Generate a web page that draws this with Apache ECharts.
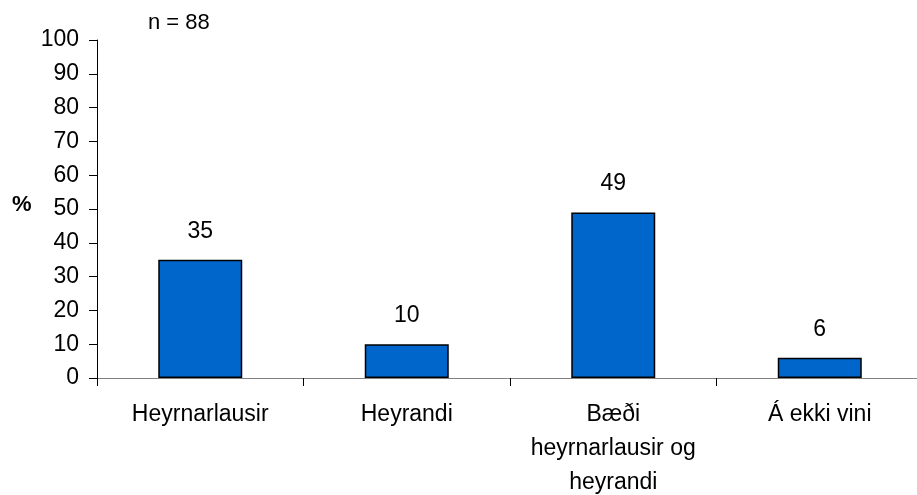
<!DOCTYPE html>
<html>
<head>
<meta charset="utf-8">
<script src="https://cdn.jsdelivr.net/npm/echarts@6/dist/echarts.min.js"></script>
<style>html,body{margin:0;padding:0;background:#fff;}#c{width:917px;height:495px;}</style>
</head>
<body>
<div id="c"></div>
<script>
const categories = ['Heyrnarlausir', 'Heyrandi', 'Bæði\nheyrnarlausir og\nheyrandi', 'Á ekki vini'];
const values = [35, 10, 49, 6];
const yTicks = [0, 10, 20, 30, 40, 50, 60, 70, 80, 90, 100];

const chart = echarts.init(document.getElementById('c'));
const font = 'Liberation Sans, Arial, sans-serif';
chart.setOption({
  animation: false,
  backgroundColor: '#fff',
  textStyle: { fontFamily: font },
  grid: { left: 97, top: 40, width: 826, height: 338, containLabel: false, outerBoundsMode: 'none' },
  graphic: [
    { type: 'text', left: 148, top: 12, style: { text: 'n = 88', font: '22px ' + font, fill: '#000' } },
    { type: 'text', left: 12, top: 194, style: { text: '%', font: 'bold 22px ' + font, fill: '#000' } }
  ],
  xAxis: {
    type: 'category',
    data: categories,
    axisLine: { lineStyle: { color: '#808080', width: 1 } },
    axisTick: { show: true, alignWithLabel: false, length: 8, inside: false, lineStyle: { color: '#000' } },
    axisLabel: { color: '#000', fontSize: 23, lineHeight: 34, margin: 20, fontFamily: font, interval: 0 },
    splitLine: { show: false }
  },
  yAxis: {
    type: 'value',
    min: yTicks[0], max: yTicks[yTicks.length - 1], interval: 10,
    axisLine: { show: true, lineStyle: { color: '#000', width: 1 } },
    axisTick: { show: true, length: 8, lineStyle: { color: '#000' } },
    axisLabel: { color: '#000', fontSize: 23, margin: 18, fontFamily: font },
    splitLine: { show: false }
  },
  series: [{
    type: 'bar',
    data: values,
    barWidth: 84,
    itemStyle: { color: '#0066CC', borderColor: '#000', borderWidth: 1.5 },
    label: { show: true, position: 'top', distance: 17, color: '#000', fontSize: 23, fontFamily: font }
  }]
});
</script>
</body>
</html>
